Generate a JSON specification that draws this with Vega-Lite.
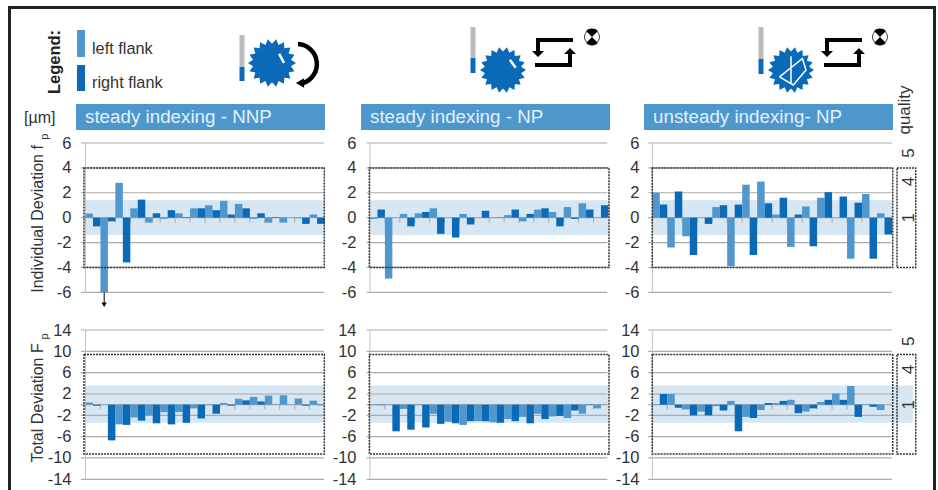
{"$schema":"https://vega.github.io/schema/vega-lite/v6.json","padding":{"left":8,"top":6,"right":2,"bottom":0},"background":"white",
"data":{"values":[{}]},
"config":{"view":{"stroke":null},"font":"Liberation Sans","scale":{"continuousPadding":0},"axisX":{"disable":true},"axisY":{"labels":false},"axis":{"grid":false,"ticks":false,"domain":false,"labelFontSize":16.5,"labelColor":"#333333","labelFont":"Liberation Sans","labelPadding":5,"labelOverlap":false,"labelBound":false,"labelFlush":false,"titleFont":"Liberation Sans","titleFontWeight":"normal","titleFontSize":16,"titleColor":"#333333"},"text":{"font":"Liberation Sans","color":"#333333"},"legend":{"disable":true}},
"datasets":{
"ticks":[{"t":0.5},{"t":2.5},{"t":4.5},{"t":6.5},{"t":8.5},{"t":10.5},{"t":12.5},{"t":14.5},{"t":16.5},{"t":18.5},{"t":20.5},{"t":22.5},{"t":24.5},{"t":26.5},{"t":28.5},{"t":30.5}],
"gridF":[{"g":6},{"g":4},{"g":2},{"g":0},{"g":-2},{"g":-4},{"g":-6}],
"gridT":[{"g":14},{"g":10},{"g":6},{"g":2},{"g":0},{"g":-2},{"g":-6},{"g":-10},{"g":-14}],
"a1":[{"bar":1,"tooth":1,"flank":"left","value":0.33},{"bar":2,"tooth":1,"flank":"right","value":-0.7},{"bar":3,"tooth":2,"flank":"left","value":-6},{"bar":4,"tooth":2,"flank":"right","value":-0.3},{"bar":5,"tooth":3,"flank":"left","value":2.8},{"bar":6,"tooth":3,"flank":"right","value":-3.6},{"bar":7,"tooth":4,"flank":"left","value":0.75},{"bar":8,"tooth":4,"flank":"right","value":1.45},{"bar":9,"tooth":5,"flank":"left","value":-0.4},{"bar":10,"tooth":5,"flank":"right","value":0.35},{"bar":11,"tooth":6,"flank":"left","value":-0.1},{"bar":12,"tooth":6,"flank":"right","value":0.6},{"bar":13,"tooth":7,"flank":"left","value":0.35},{"bar":14,"tooth":7,"flank":"right","value":0.05},{"bar":15,"tooth":8,"flank":"left","value":0.75},{"bar":16,"tooth":8,"flank":"right","value":0.75},{"bar":17,"tooth":9,"flank":"left","value":1},{"bar":18,"tooth":9,"flank":"right","value":0.6},{"bar":19,"tooth":10,"flank":"left","value":1.35},{"bar":20,"tooth":10,"flank":"right","value":0.25},{"bar":21,"tooth":11,"flank":"left","value":1.1},{"bar":22,"tooth":11,"flank":"right","value":0.75},{"bar":23,"tooth":12,"flank":"left","value":-0.1},{"bar":24,"tooth":12,"flank":"right","value":0.35},{"bar":25,"tooth":13,"flank":"left","value":-0.4},{"bar":26,"tooth":13,"flank":"right","value":0.05},{"bar":27,"tooth":14,"flank":"left","value":-0.4},{"bar":28,"tooth":14,"flank":"right","value":0},{"bar":29,"tooth":15,"flank":"left","value":-0.05},{"bar":30,"tooth":15,"flank":"right","value":-0.5},{"bar":31,"tooth":16,"flank":"left","value":0.25},{"bar":32,"tooth":16,"flank":"right","value":-0.5}],
"a2":[{"bar":1,"tooth":1,"flank":"left","value":-0.1},{"bar":2,"tooth":1,"flank":"right","value":0.65},{"bar":3,"tooth":2,"flank":"left","value":-4.9},{"bar":4,"tooth":2,"flank":"right","value":0},{"bar":5,"tooth":3,"flank":"left","value":0.3},{"bar":6,"tooth":3,"flank":"right","value":-0.7},{"bar":7,"tooth":4,"flank":"left","value":0.35},{"bar":8,"tooth":4,"flank":"right","value":0.45},{"bar":9,"tooth":5,"flank":"left","value":0.75},{"bar":10,"tooth":5,"flank":"right","value":-1.3},{"bar":11,"tooth":6,"flank":"left","value":0},{"bar":12,"tooth":6,"flank":"right","value":-1.6},{"bar":13,"tooth":7,"flank":"left","value":0.3},{"bar":14,"tooth":7,"flank":"right","value":-0.55},{"bar":15,"tooth":8,"flank":"left","value":0},{"bar":16,"tooth":8,"flank":"right","value":0.55},{"bar":17,"tooth":9,"flank":"left","value":0.02},{"bar":18,"tooth":9,"flank":"right","value":0.02},{"bar":19,"tooth":10,"flank":"left","value":0.2},{"bar":20,"tooth":10,"flank":"right","value":0.65},{"bar":21,"tooth":11,"flank":"left","value":-0.3},{"bar":22,"tooth":11,"flank":"right","value":0.3},{"bar":23,"tooth":12,"flank":"left","value":0.65},{"bar":24,"tooth":12,"flank":"right","value":0.75},{"bar":25,"tooth":13,"flank":"left","value":0.45},{"bar":26,"tooth":13,"flank":"right","value":-0.7},{"bar":27,"tooth":14,"flank":"left","value":0.85},{"bar":28,"tooth":14,"flank":"right","value":-0.1},{"bar":29,"tooth":15,"flank":"left","value":1.15},{"bar":30,"tooth":15,"flank":"right","value":0.65},{"bar":31,"tooth":16,"flank":"left","value":0.02},{"bar":32,"tooth":16,"flank":"right","value":1}],
"a3":[{"bar":1,"tooth":1,"flank":"left","value":2},{"bar":2,"tooth":1,"flank":"right","value":1.05},{"bar":3,"tooth":2,"flank":"left","value":-2.4},{"bar":4,"tooth":2,"flank":"right","value":2.1},{"bar":5,"tooth":3,"flank":"left","value":-1.5},{"bar":6,"tooth":3,"flank":"right","value":-3},{"bar":7,"tooth":4,"flank":"left","value":0},{"bar":8,"tooth":4,"flank":"right","value":-0.5},{"bar":9,"tooth":5,"flank":"left","value":0.85},{"bar":10,"tooth":5,"flank":"right","value":1},{"bar":11,"tooth":6,"flank":"left","value":-3.9},{"bar":12,"tooth":6,"flank":"right","value":1.05},{"bar":13,"tooth":7,"flank":"left","value":2.65},{"bar":14,"tooth":7,"flank":"right","value":-3},{"bar":15,"tooth":8,"flank":"left","value":2.9},{"bar":16,"tooth":8,"flank":"right","value":1.15},{"bar":17,"tooth":9,"flank":"left","value":0.25},{"bar":18,"tooth":9,"flank":"right","value":1.6},{"bar":19,"tooth":10,"flank":"left","value":-2.35},{"bar":20,"tooth":10,"flank":"right","value":0.25},{"bar":21,"tooth":11,"flank":"left","value":0.9},{"bar":22,"tooth":11,"flank":"right","value":-2.3},{"bar":23,"tooth":12,"flank":"left","value":1.6},{"bar":24,"tooth":12,"flank":"right","value":2.05},{"bar":25,"tooth":13,"flank":"left","value":0},{"bar":26,"tooth":13,"flank":"right","value":1.7},{"bar":27,"tooth":14,"flank":"left","value":-3.3},{"bar":28,"tooth":14,"flank":"right","value":1.2},{"bar":29,"tooth":15,"flank":"left","value":1.9},{"bar":30,"tooth":15,"flank":"right","value":-3.3},{"bar":31,"tooth":16,"flank":"left","value":0.35},{"bar":32,"tooth":16,"flank":"right","value":-1.35}],
"b1":[{"bar":1,"tooth":1,"flank":"left","value":0.4},{"bar":2,"tooth":1,"flank":"right","value":-0.2},{"bar":3,"tooth":2,"flank":"left","value":0},{"bar":4,"tooth":2,"flank":"right","value":-6.7},{"bar":5,"tooth":3,"flank":"left","value":-3.7},{"bar":6,"tooth":3,"flank":"right","value":-3.8},{"bar":7,"tooth":4,"flank":"left","value":-2.4},{"bar":8,"tooth":4,"flank":"right","value":-3},{"bar":9,"tooth":5,"flank":"left","value":-2},{"bar":10,"tooth":5,"flank":"right","value":-3.5},{"bar":11,"tooth":6,"flank":"left","value":-1.4},{"bar":12,"tooth":6,"flank":"right","value":-3.7},{"bar":13,"tooth":7,"flank":"left","value":-1.4},{"bar":14,"tooth":7,"flank":"right","value":-3.4},{"bar":15,"tooth":8,"flank":"left","value":-0.7},{"bar":16,"tooth":8,"flank":"right","value":-2.6},{"bar":17,"tooth":9,"flank":"left","value":-0.1},{"bar":18,"tooth":9,"flank":"right","value":-1.7},{"bar":19,"tooth":10,"flank":"left","value":0.3},{"bar":20,"tooth":10,"flank":"right","value":-0.2},{"bar":21,"tooth":11,"flank":"left","value":1.1},{"bar":22,"tooth":11,"flank":"right","value":0.8},{"bar":23,"tooth":12,"flank":"left","value":1.45},{"bar":24,"tooth":12,"flank":"right","value":0.6},{"bar":25,"tooth":13,"flank":"left","value":1.7},{"bar":26,"tooth":13,"flank":"right","value":-0.03},{"bar":27,"tooth":14,"flank":"left","value":1.75},{"bar":28,"tooth":14,"flank":"right","value":0.02},{"bar":29,"tooth":15,"flank":"left","value":1.15},{"bar":30,"tooth":15,"flank":"right","value":-0.2},{"bar":31,"tooth":16,"flank":"left","value":0.75},{"bar":32,"tooth":16,"flank":"right","value":-0.1}],
"b2":[{"bar":1,"tooth":1,"flank":"left","value":-0.1},{"bar":2,"tooth":1,"flank":"right","value":-0.1},{"bar":3,"tooth":2,"flank":"left","value":-0.05},{"bar":4,"tooth":2,"flank":"right","value":-5},{"bar":5,"tooth":3,"flank":"left","value":-0.8},{"bar":6,"tooth":3,"flank":"right","value":-4.7},{"bar":7,"tooth":4,"flank":"left","value":-0.1},{"bar":8,"tooth":4,"flank":"right","value":-4.3},{"bar":9,"tooth":5,"flank":"left","value":-1.7},{"bar":10,"tooth":5,"flank":"right","value":-3.6},{"bar":11,"tooth":6,"flank":"left","value":-3.2},{"bar":12,"tooth":6,"flank":"right","value":-3.5},{"bar":13,"tooth":7,"flank":"left","value":-3.8},{"bar":14,"tooth":7,"flank":"right","value":-3.1},{"bar":15,"tooth":8,"flank":"left","value":-3.1},{"bar":16,"tooth":8,"flank":"right","value":-3.1},{"bar":17,"tooth":9,"flank":"left","value":-3.3},{"bar":18,"tooth":9,"flank":"right","value":-3.4},{"bar":19,"tooth":10,"flank":"left","value":-2.7},{"bar":20,"tooth":10,"flank":"right","value":-3.1},{"bar":21,"tooth":11,"flank":"left","value":-2.3},{"bar":22,"tooth":11,"flank":"right","value":-3.5},{"bar":23,"tooth":12,"flank":"left","value":-1.7},{"bar":24,"tooth":12,"flank":"right","value":-2.7},{"bar":25,"tooth":13,"flank":"left","value":-2.2},{"bar":26,"tooth":13,"flank":"right","value":-2.1},{"bar":27,"tooth":14,"flank":"left","value":-2.5},{"bar":28,"tooth":14,"flank":"right","value":-1.1},{"bar":29,"tooth":15,"flank":"left","value":-1.7},{"bar":30,"tooth":15,"flank":"right","value":-0.1},{"bar":31,"tooth":16,"flank":"left","value":-0.7},{"bar":32,"tooth":16,"flank":"right","value":-0.02}],
"b3":[{"bar":1,"tooth":1,"flank":"left","value":0.1},{"bar":2,"tooth":1,"flank":"right","value":2},{"bar":3,"tooth":2,"flank":"left","value":2},{"bar":4,"tooth":2,"flank":"right","value":-0.6},{"bar":5,"tooth":3,"flank":"left","value":-0.9},{"bar":6,"tooth":3,"flank":"right","value":-2},{"bar":7,"tooth":4,"flank":"left","value":-1.3},{"bar":8,"tooth":4,"flank":"right","value":-2},{"bar":9,"tooth":5,"flank":"left","value":-0.3},{"bar":10,"tooth":5,"flank":"right","value":-1.1},{"bar":11,"tooth":6,"flank":"left","value":0.7},{"bar":12,"tooth":6,"flank":"right","value":-5},{"bar":13,"tooth":7,"flank":"left","value":-2.3},{"bar":14,"tooth":7,"flank":"right","value":-2.5},{"bar":15,"tooth":8,"flank":"left","value":-1},{"bar":16,"tooth":8,"flank":"right","value":0.3},{"bar":17,"tooth":9,"flank":"left","value":0.3},{"bar":18,"tooth":9,"flank":"right","value":0.7},{"bar":19,"tooth":10,"flank":"left","value":0.9},{"bar":20,"tooth":10,"flank":"right","value":-1.6},{"bar":21,"tooth":11,"flank":"left","value":-1.3},{"bar":22,"tooth":11,"flank":"right","value":-0.7},{"bar":23,"tooth":12,"flank":"left","value":0.5},{"bar":24,"tooth":12,"flank":"right","value":0.9},{"bar":25,"tooth":13,"flank":"left","value":2.1},{"bar":26,"tooth":13,"flank":"right","value":0.9},{"bar":27,"tooth":14,"flank":"left","value":3.5},{"bar":28,"tooth":14,"flank":"right","value":-2.3},{"bar":29,"tooth":15,"flank":"left","value":0.1},{"bar":30,"tooth":15,"flank":"right","value":-0.4},{"bar":31,"tooth":16,"flank":"left","value":-1},{"bar":32,"tooth":16,"flank":"right","value":0}]
},
"spacing":0,
"vconcat":[
{"width":928,"height":3,"mark":{"type":"rect","color":"#222222"},"encoding":{}},
{"spacing":13,"hconcat":[
{"width":3,"height":481,"mark":{"type":"rect","color":"#222222"},"encoding":{}},
{"columns":3,"align":"each","bounds":"flush","spacing":{"row":13,"column":35},"concat":[
{"width":250,"height":82,"layer":[
{"mark":{"type":"text","fontSize":16.5,"fontWeight":"bold","angle":270,"align":"center","baseline":"middle","color":"#222222"},"encoding":{"text":{"value":"Legend:"},"x":{"datum":-21,"scale":{"domain":[0,250],"nice":false}},"y":{"datum":53,"scale":{"domain":[82,0],"nice":false}}}},
{"mark":{"type":"rect","fill":"#4f97cd"},"encoding":{"x":{"datum":1},"x2":{"datum":9},"y":{"datum":21},"y2":{"datum":48}}},
{"mark":{"type":"rect","fill":"#0a6ab8"},"encoding":{"x":{"datum":1},"x2":{"datum":9},"y":{"datum":56},"y2":{"datum":82}}},
{"mark":{"type":"text","fontSize":16.3,"align":"left","baseline":"middle"},"encoding":{"text":{"value":"left flank"},"x":{"datum":16},"y":{"datum":40}}},
{"mark":{"type":"text","fontSize":16.3,"align":"left","baseline":"middle"},"encoding":{"text":{"value":"right flank"},"x":{"datum":16},"y":{"datum":74}}},
{"mark":{"type":"rule","color":"#bbbbbb","strokeWidth":5},"encoding":{"x":{"datum":166},"y":{"datum":26},"y2":{"datum":58}}},
{"mark":{"type":"rule","color":"#0a6ab8","strokeWidth":5},"encoding":{"x":{"datum":166},"y":{"datum":58},"y2":{"datum":72}}},
{"mark":{"type":"point","filled":true,"opacity":1,"fill":"#0a6ab8","strokeWidth":0,"size":2304,"shape":"M1,0L.788,.139L.94,.342L.693,.4L.766,.643L.514,.613L.5,.866L.274,.752L.174,.985L0,.8L-.174,.985L-.274,.752L-.5,.866L-.514,.613L-.766,.643L-.693,.4L-.94,.342L-.788,.139L-1,0L-.788,-.139L-.94,-.342L-.693,-.4L-.766,-.643L-.514,-.613L-.5,-.866L-.274,-.752L-.174,-.985L0,-.8L.174,-.985L.274,-.752L.5,-.866L.514,-.613L.766,-.643L.693,-.4L.94,-.342L.788,-.139Z"},"encoding":{"x":{"datum":196},"y":{"datum":54}}},
{"mark":{"type":"point","filled":false,"opacity":1,"stroke":"#ffffff","strokeWidth":2.5,"size":2304,"shape":"M.3,-.38L.5,0"},"encoding":{"x":{"datum":196},"y":{"datum":54}}},
{"mark":{"type":"point","filled":false,"opacity":1,"stroke":"#000000","strokeWidth":4.5,"size":1600,"shape":"M-.25,-.95A1,1 0 0 1 0,1"},"encoding":{"x":{"datum":227},"y":{"datum":54}}},
{"mark":{"type":"point","filled":true,"opacity":1,"fill":"#000000","shape":"triangle-left","size":90},"encoding":{"x":{"datum":224},"y":{"datum":74}}}
]},
{"width":248,"height":82,"layer":[
{"mark":{"type":"rule","color":"#bbbbbb","strokeWidth":5},"encoding":{"x":{"datum":112,"scale":{"domain":[0,248],"nice":false}},"y":{"datum":18,"scale":{"domain":[82,0],"nice":false}},"y2":{"datum":49}}},
{"mark":{"type":"rule","color":"#0a6ab8","strokeWidth":5},"encoding":{"x":{"datum":112},"y":{"datum":49},"y2":{"datum":64}}},
{"mark":{"type":"point","filled":true,"opacity":1,"fill":"#0a6ab8","strokeWidth":0,"size":2116,"shape":"M1,0L.788,.139L.94,.342L.693,.4L.766,.643L.514,.613L.5,.866L.274,.752L.174,.985L0,.8L-.174,.985L-.274,.752L-.5,.866L-.514,.613L-.766,.643L-.693,.4L-.94,.342L-.788,.139L-1,0L-.788,-.139L-.94,-.342L-.693,-.4L-.766,-.643L-.514,-.613L-.5,-.866L-.274,-.752L-.174,-.985L0,-.8L.174,-.985L.274,-.752L.5,-.866L.514,-.613L.766,-.643L.693,-.4L.94,-.342L.788,-.139Z"},"encoding":{"x":{"datum":142},"y":{"datum":61}}},
{"mark":{"type":"point","filled":false,"opacity":1,"stroke":"#ffffff","strokeWidth":2.5,"size":2116,"shape":"M.3,-.45L.55,-.1"},"encoding":{"x":{"datum":142},"y":{"datum":61}}},
{"mark":{"type":"point","filled":true,"opacity":1,"fill":"#000000","strokeWidth":0,"size":1600,"shape":"M.9,-.7L-.95,-.7L-.95,-.05L-1.15,-.05L-.85,.25L-.55,-.05L-.75,-.05L-.75,-.5L.9,-.5ZM-1,.75L.85,.75L.85,.1L1.05,.1L.75,-.2L.45,.1L.65,.1L.65,.55L-1,.55Z"},"encoding":{"x":{"datum":194},"y":{"datum":43}}},
{"mark":{"type":"point","filled":true,"opacity":1,"fill":"#ffffff","stroke":"#444444","strokeWidth":1,"size":227,"shape":"circle"},"encoding":{"x":{"datum":231},"y":{"datum":28}}},
{"mark":{"type":"point","filled":true,"opacity":1,"fill":"#000000","strokeWidth":0,"size":289,"shape":"M0,0L-.7,-.7A1,1 0 0 1 .7,-.7ZM0,0L.7,.7A1,1 0 0 1 -.7,.7Z"},"encoding":{"x":{"datum":231},"y":{"datum":28}}}
]},
{"width":276,"height":82,"layer":[
{"mark":{"type":"rule","color":"#bbbbbb","strokeWidth":5},"encoding":{"x":{"datum":117,"scale":{"domain":[0,276],"nice":false}},"y":{"datum":18,"scale":{"domain":[82,0],"nice":false}},"y2":{"datum":50}}},
{"mark":{"type":"rule","color":"#0a6ab8","strokeWidth":5},"encoding":{"x":{"datum":117},"y":{"datum":50},"y2":{"datum":65}}},
{"mark":{"type":"point","filled":true,"opacity":1,"fill":"#0a6ab8","strokeWidth":0,"size":2116,"shape":"M1,0L.788,.139L.94,.342L.693,.4L.766,.643L.514,.613L.5,.866L.274,.752L.174,.985L0,.8L-.174,.985L-.274,.752L-.5,.866L-.514,.613L-.766,.643L-.693,.4L-.94,.342L-.788,.139L-1,0L-.788,-.139L-.94,-.342L-.693,-.4L-.766,-.643L-.514,-.613L-.5,-.866L-.274,-.752L-.174,-.985L0,-.8L.174,-.985L.274,-.752L.5,-.866L.514,-.613L.766,-.643L.693,-.4L.94,-.342L.788,-.139Z"},"encoding":{"x":{"datum":147},"y":{"datum":61}}},
{"mark":{"type":"point","filled":false,"opacity":1,"stroke":"#ffffff","strokeWidth":1.5,"size":2116,"shape":"M0,-.6L0,.6M-.5,.3L.5,-.5L.65,0L.1,.65L-.5,.3"},"encoding":{"x":{"datum":147},"y":{"datum":61}}},
{"mark":{"type":"point","filled":true,"opacity":1,"fill":"#000000","strokeWidth":0,"size":1600,"shape":"M.9,-.7L-.95,-.7L-.95,-.05L-1.15,-.05L-.85,.25L-.55,-.05L-.75,-.05L-.75,-.5L.9,-.5ZM-1,.75L.85,.75L.85,.1L1.05,.1L.75,-.2L.45,.1L.65,.1L.65,.55L-1,.55Z"},"encoding":{"x":{"datum":200},"y":{"datum":43}}},
{"mark":{"type":"point","filled":true,"opacity":1,"fill":"#ffffff","stroke":"#444444","strokeWidth":1,"size":227,"shape":"circle"},"encoding":{"x":{"datum":236},"y":{"datum":28}}},
{"mark":{"type":"point","filled":true,"opacity":1,"fill":"#000000","strokeWidth":0,"size":289,"shape":"M0,0L-.7,-.7A1,1 0 0 1 .7,-.7ZM0,0L.7,.7A1,1 0 0 1 -.7,.7Z"},"encoding":{"x":{"datum":236},"y":{"datum":28}}}
]},
{"width":250,"height":26,"layer":[
{"mark":{"type":"rect","fill":"#4e97cd"},"encoding":{"x":{"datum":0,"scale":{"domain":[0,250],"nice":false}},"x2":{"datum":249}}},
{"mark":{"type":"text","fontSize":18.8,"align":"left","baseline":"middle","color":"#e3f0f8"},"encoding":{"text":{"value":"steady indexing - NNP"},"x":{"datum":9},"y":{"datum":13,"scale":{"domain":[0,26],"nice":false}}}},
{"mark":{"type":"text","fontSize":16,"align":"left","baseline":"middle"},"encoding":{"text":{"value":"[µm]"},"x":{"datum":-52},"y":{"datum":12}}}
]},
{"width":248,"height":26,"layer":[
{"mark":{"type":"rect","fill":"#4e97cd"},"encoding":{"x":{"datum":0,"scale":{"domain":[0,248],"nice":false}},"x2":{"datum":249}}},
{"mark":{"type":"text","fontSize":18.8,"align":"left","baseline":"middle","color":"#e3f0f8"},"encoding":{"text":{"value":"steady indexing - NP"},"x":{"datum":9},"y":{"datum":13,"scale":{"domain":[0,26],"nice":false}}}}
]},
{"width":276,"height":26,"layer":[
{"mark":{"type":"rect","fill":"#4e97cd"},"encoding":{"x":{"datum":0,"scale":{"domain":[0,276],"nice":false}},"x2":{"datum":249}}},
{"mark":{"type":"text","fontSize":18.8,"align":"left","baseline":"middle","color":"#e3f0f8"},"encoding":{"text":{"value":"unsteady indexing- NP"},"x":{"datum":9},"y":{"datum":13,"scale":{"domain":[0,26],"nice":false}}}},
{"mark":{"type":"text","fontSize":17,"angle":270,"align":"center","baseline":"middle"},"encoding":{"text":{"value":"quality"},"x":{"datum":261},"y":{"datum":20}}}
]},
{"width":250,"height":149.3,"layer":[
{"mark":{"type":"rect","fill":"#d6e6f2"},"encoding":{"x":{"datum":0.5,"scale":{"domain":[-0.772,32.695],"nice":false}},"x2":{"datum":32.5},"y":{"datum":1.4,"scale":{"domain":[-6,6],"nice":false},"axis":{"labels":true,"labelOverlap":false,"tickCount":9,"values":[6,4,2,0,-2,-4,-6],"labelExpr":"''+datum.value","title":"Individual Deviation f","titleAnchor":"start","titleX":-39,"titleBaseline":"middle"}},"y2":{"datum":-1.4}}},
{"data":{"name":"gridF"},"mark":{"type":"rule","color":"#aaaaaa","strokeWidth":1.2},"encoding":{"x":{"datum":-0.1},"x2":{"datum":32.43},"y":{"field":"g","type":"quantitative"}}},
{"mark":{"type":"rule","color":"#c4c4c4","strokeWidth":1},"encoding":{"x":{"datum":0.5},"y":{"datum":6},"y2":{"datum":-6}}},
{"data":{"name":"ticks"},"mark":{"type":"rule","color":"#aaaaaa","strokeWidth":1},"encoding":{"x":{"field":"t","type":"quantitative"},"y":{"datum":0},"y2":{"datum":-0.4}}},
{"data":{"name":"a1"},"mark":{"type":"bar","orient":"vertical","width":7.47},"encoding":{"x":{"field":"bar","type":"quantitative"},"y":{"field":"value","type":"quantitative","stack":null},"color":{"field":"flank","type":"nominal","scale":{"domain":["left","right"],"range":["#4f97cd","#0a6ab8"]}}}},
{"mark":{"type":"rule","color":"#000000","strokeWidth":1},"encoding":{"x":{"datum":3},"y":{"datum":-6},"y2":{"datum":-7}}},
{"mark":{"type":"point","filled":true,"opacity":1,"fill":"#000000","shape":"triangle-down","size":28},"encoding":{"x":{"datum":3},"y":{"datum":-7}}},
{"mark":{"type":"rect","fill":"transparent","stroke":"#333333","strokeWidth":1.5,"strokeDash":[2,1]},"encoding":{"x":{"datum":0.3},"x2":{"datum":32.47},"y":{"datum":4},"y2":{"datum":-4}}},
{"mark":{"type":"text","fontSize":11,"angle":270,"align":"center","baseline":"middle"},"encoding":{"text":{"value":"p"},"x":{"datum":-4.92},"y":{"datum":6.5}}}
]},
{"width":248,"height":149.3,"layer":[
{"mark":{"type":"rect","fill":"#d6e6f2"},"encoding":{"x":{"datum":0.5,"scale":{"domain":[-0.708,32.58],"nice":false}},"x2":{"datum":32.5},"y":{"datum":1.4,"scale":{"domain":[-6,6],"nice":false},"axis":{"labels":true,"labelOverlap":false,"tickCount":9,"values":[6,4,2,0,-2,-4,-6],"labelExpr":"''+datum.value","title":null}},"y2":{"datum":-1.4}}},
{"data":{"name":"gridF"},"mark":{"type":"rule","color":"#aaaaaa","strokeWidth":1.2},"encoding":{"x":{"datum":0.06},"x2":{"datum":32.35},"y":{"field":"g","type":"quantitative"}}},
{"mark":{"type":"rule","color":"#c4c4c4","strokeWidth":1},"encoding":{"x":{"datum":0.5},"y":{"datum":6},"y2":{"datum":-6}}},
{"data":{"name":"ticks"},"mark":{"type":"rule","color":"#aaaaaa","strokeWidth":1},"encoding":{"x":{"field":"t","type":"quantitative"},"y":{"datum":0},"y2":{"datum":-0.4}}},
{"data":{"name":"a2"},"mark":{"type":"bar","orient":"vertical","width":7.45},"encoding":{"x":{"field":"bar","type":"quantitative"},"y":{"field":"value","type":"quantitative","stack":null},"color":{"field":"flank","type":"nominal","scale":{"domain":["left","right"],"range":["#4f97cd","#0a6ab8"]}}}},
{"mark":{"type":"rect","fill":"transparent","stroke":"#333333","strokeWidth":1.5,"strokeDash":[2,1]},"encoding":{"x":{"datum":0.41},"x2":{"datum":32.58},"y":{"datum":4},"y2":{"datum":-4}}}
]},
{"width":276,"height":149.3,"layer":[
{"mark":{"type":"rect","fill":"#d6e6f2"},"encoding":{"x":{"datum":0.5,"scale":{"domain":[-0.608,36.24],"nice":false}},"x2":{"datum":32.5},"y":{"datum":1.4,"scale":{"domain":[-6,6],"nice":false},"axis":{"labels":true,"labelOverlap":false,"tickCount":9,"values":[6,4,2,0,-2,-4,-6],"labelExpr":"''+datum.value","title":null}},"y2":{"datum":-1.4}}},
{"data":{"name":"gridF"},"mark":{"type":"rule","color":"#aaaaaa","strokeWidth":1.2},"encoding":{"x":{"datum":-0.03},"x2":{"datum":32.46},"y":{"field":"g","type":"quantitative"}}},
{"mark":{"type":"rule","color":"#c4c4c4","strokeWidth":1},"encoding":{"x":{"datum":0.5},"y":{"datum":6},"y2":{"datum":-6}}},
{"data":{"name":"ticks"},"mark":{"type":"rule","color":"#aaaaaa","strokeWidth":1},"encoding":{"x":{"field":"t","type":"quantitative"},"y":{"datum":0},"y2":{"datum":-0.4}}},
{"data":{"name":"a3"},"mark":{"type":"bar","orient":"vertical","width":7.49},"encoding":{"x":{"field":"bar","type":"quantitative"},"y":{"field":"value","type":"quantitative","stack":null},"color":{"field":"flank","type":"nominal","scale":{"domain":["left","right"],"range":["#4f97cd","#0a6ab8"]}}}},
{"mark":{"type":"rect","fill":"transparent","stroke":"#333333","strokeWidth":1.5,"strokeDash":[2,1]},"encoding":{"x":{"datum":0.5},"x2":{"datum":32.6},"y":{"datum":4},"y2":{"datum":-4}}},
{"mark":{"type":"rect","fill":"transparent","stroke":"#333333","strokeWidth":1.5,"strokeDash":[2,1]},"encoding":{"x":{"datum":33.17},"x2":{"datum":35.67},"y":{"datum":4},"y2":{"datum":-4}}},
{"data":{"values":[{"quality":"5","level":5.2},{"quality":"4","level":2.9},{"quality":"1","level":0}]},"mark":{"type":"text","fontSize":17,"angle":270,"align":"center","baseline":"middle"},"encoding":{"text":{"field":"quality","type":"nominal"},"x":{"datum":34.77},"y":{"field":"level","type":"quantitative"}}}
]},
{"width":250,"height":11,"data":{"values":[]},"mark":"rect"},
{"width":248,"height":11,"data":{"values":[]},"mark":"rect"},
{"width":276,"height":11,"data":{"values":[]},"mark":"rect"},
{"width":250,"height":149.3,"layer":[
{"mark":{"type":"rect","fill":"#d6e6f2"},"encoding":{"x":{"datum":0.5,"scale":{"domain":[-0.772,32.695],"nice":false}},"x2":{"datum":32.5},"y":{"datum":3.6,"scale":{"domain":[-14,14],"nice":false},"axis":{"labels":true,"labelOverlap":false,"tickCount":9,"values":[14,10,6,2,-2,-6,-10,-14],"labelExpr":"''+datum.value","title":"Total Deviation F","titleAnchor":"start","titleX":-39,"titleY":132,"titleBaseline":"middle"}},"y2":{"datum":-3.4}}},
{"data":{"name":"gridT"},"mark":{"type":"rule","color":"#aaaaaa","strokeWidth":1.2},"encoding":{"x":{"datum":-0.1},"x2":{"datum":32.43},"y":{"field":"g","type":"quantitative"}}},
{"mark":{"type":"rule","color":"#c4c4c4","strokeWidth":1},"encoding":{"x":{"datum":0.5},"y":{"datum":14},"y2":{"datum":-14}}},
{"data":{"name":"ticks"},"mark":{"type":"rule","color":"#aaaaaa","strokeWidth":1},"encoding":{"x":{"field":"t","type":"quantitative"},"y":{"datum":0},"y2":{"datum":-0.9}}},
{"data":{"name":"b1"},"mark":{"type":"bar","orient":"vertical","width":7.47},"encoding":{"x":{"field":"bar","type":"quantitative"},"y":{"field":"value","type":"quantitative","stack":null},"color":{"field":"flank","type":"nominal","scale":{"domain":["left","right"],"range":["#4f97cd","#0a6ab8"]}}}},
{"mark":{"type":"rect","fill":"transparent","stroke":"#333333","strokeWidth":1.5,"strokeDash":[2,1]},"encoding":{"x":{"datum":0.3},"x2":{"datum":32.47},"y":{"datum":9.4},"y2":{"datum":-9.25}}},
{"mark":{"type":"text","fontSize":11,"angle":270,"align":"center","baseline":"middle"},"encoding":{"text":{"value":"p"},"x":{"datum":-4.92},"y":{"datum":12.8}}}
]},
{"width":248,"height":149.3,"layer":[
{"mark":{"type":"rect","fill":"#d6e6f2"},"encoding":{"x":{"datum":0.5,"scale":{"domain":[-0.708,32.58],"nice":false}},"x2":{"datum":32.5},"y":{"datum":3.6,"scale":{"domain":[-14,14],"nice":false},"axis":{"labels":true,"labelOverlap":false,"tickCount":9,"values":[14,10,6,2,-2,-6,-10,-14],"labelExpr":"''+datum.value","title":null}},"y2":{"datum":-3.4}}},
{"data":{"name":"gridT"},"mark":{"type":"rule","color":"#aaaaaa","strokeWidth":1.2},"encoding":{"x":{"datum":0.06},"x2":{"datum":32.35},"y":{"field":"g","type":"quantitative"}}},
{"mark":{"type":"rule","color":"#c4c4c4","strokeWidth":1},"encoding":{"x":{"datum":0.5},"y":{"datum":14},"y2":{"datum":-14}}},
{"data":{"name":"ticks"},"mark":{"type":"rule","color":"#aaaaaa","strokeWidth":1},"encoding":{"x":{"field":"t","type":"quantitative"},"y":{"datum":0},"y2":{"datum":-0.9}}},
{"data":{"name":"b2"},"mark":{"type":"bar","orient":"vertical","width":7.45},"encoding":{"x":{"field":"bar","type":"quantitative"},"y":{"field":"value","type":"quantitative","stack":null},"color":{"field":"flank","type":"nominal","scale":{"domain":["left","right"],"range":["#4f97cd","#0a6ab8"]}}}},
{"mark":{"type":"rect","fill":"transparent","stroke":"#333333","strokeWidth":1.5,"strokeDash":[2,1]},"encoding":{"x":{"datum":0.41},"x2":{"datum":32.58},"y":{"datum":9.4},"y2":{"datum":-9.25}}}
]},
{"width":276,"height":149.3,"layer":[
{"mark":{"type":"rect","fill":"#d6e6f2"},"encoding":{"x":{"datum":0.5,"scale":{"domain":[-0.608,36.24],"nice":false}},"x2":{"datum":35.3},"y":{"datum":3.6,"scale":{"domain":[-14,14],"nice":false},"axis":{"labels":true,"labelOverlap":false,"tickCount":9,"values":[14,10,6,2,-2,-6,-10,-14],"labelExpr":"''+datum.value","title":null}},"y2":{"datum":-3.4}}},
{"data":{"name":"gridT"},"mark":{"type":"rule","color":"#aaaaaa","strokeWidth":1.2},"encoding":{"x":{"datum":-0.03},"x2":{"datum":32.46},"y":{"field":"g","type":"quantitative"}}},
{"mark":{"type":"rule","color":"#c4c4c4","strokeWidth":1},"encoding":{"x":{"datum":0.5},"y":{"datum":14},"y2":{"datum":-14}}},
{"data":{"name":"ticks"},"mark":{"type":"rule","color":"#aaaaaa","strokeWidth":1},"encoding":{"x":{"field":"t","type":"quantitative"},"y":{"datum":0},"y2":{"datum":-0.9}}},
{"data":{"name":"b3"},"mark":{"type":"bar","orient":"vertical","width":7.49},"encoding":{"x":{"field":"bar","type":"quantitative"},"y":{"field":"value","type":"quantitative","stack":null},"color":{"field":"flank","type":"nominal","scale":{"domain":["left","right"],"range":["#4f97cd","#0a6ab8"]}}}},
{"mark":{"type":"rect","fill":"transparent","stroke":"#333333","strokeWidth":1.5,"strokeDash":[2,1]},"encoding":{"x":{"datum":0.5},"x2":{"datum":32.6},"y":{"datum":9.4},"y2":{"datum":-9.25}}},
{"mark":{"type":"rect","fill":"transparent","stroke":"#333333","strokeWidth":1.5,"strokeDash":[2,1]},"encoding":{"x":{"datum":33.17},"x2":{"datum":35.67},"y":{"datum":9.4},"y2":{"datum":-9.25}}},
{"data":{"values":[{"quality":"5","level":11.9},{"quality":"4","level":6.6},{"quality":"1","level":0}]},"mark":{"type":"text","fontSize":17,"angle":270,"align":"center","baseline":"middle"},"encoding":{"text":{"field":"quality","type":"nominal"},"x":{"datum":34.77},"y":{"field":"level","type":"quantitative"}}}
]}
]},
{"width":3,"height":481,"mark":{"type":"rect","color":"#222222"},"encoding":{}}
]}
]}
